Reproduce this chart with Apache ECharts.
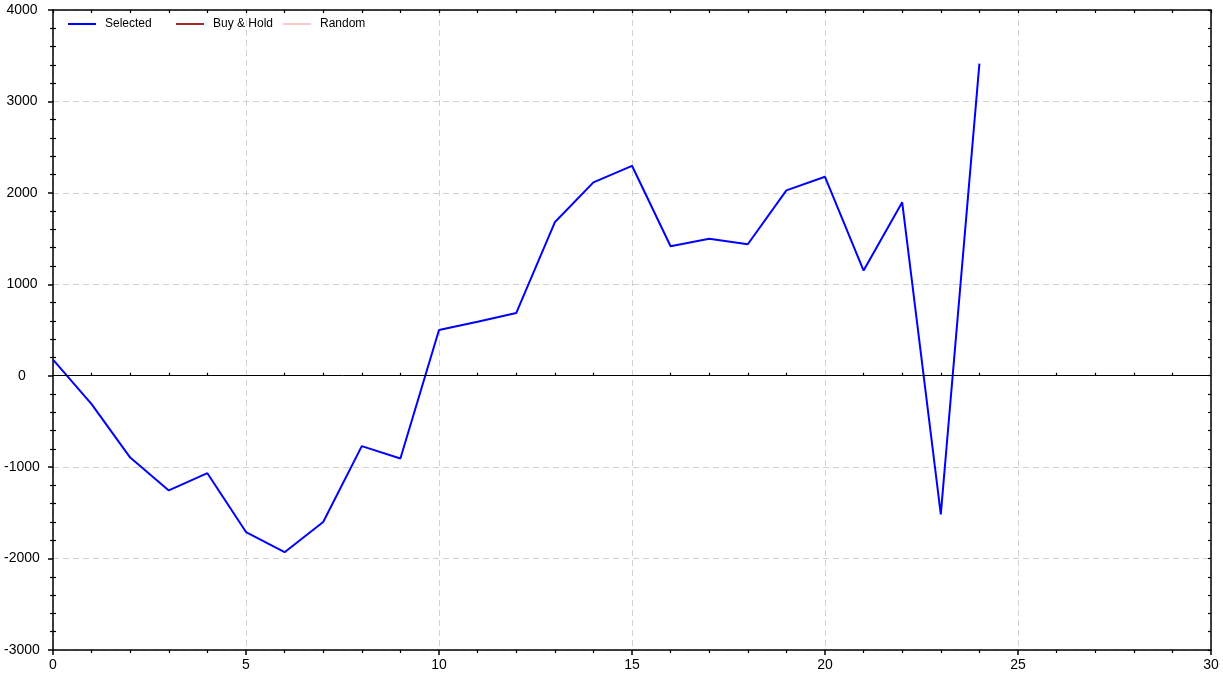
<!DOCTYPE html>
<html>
<head>
<meta charset="utf-8">
<script src="https://cdn.jsdelivr.net/npm/echarts@6/dist/echarts.min.js"></script>
<style>
html,body{margin:0;padding:0;background:#fff;}
#chart{width:1223px;height:678px;}
</style>
</head>
<body>
<div id="chart"></div>
<script>
const xValues = [0,1,2,3,4,5,6,7,8,9,10,11,12,13,14,15,16,17,18,19,20,21,22,23,24];
const selected = [175,-310,-895,-1255,-1066,-1710,-1930,-1600,-770,-906,500,590,685,1678,2115,2296,1416,1499,1438,2027,2176,1150,1896,-1517,3414];
const buyHold = [];
const random = [];
const seriesNames = ['Selected','Buy & Hold','Random'];
const seriesColors = ['#0000ff','#a52a2a','#ffc8cc'];
const legendLefts = [68,176,283];

const chart = echarts.init(document.getElementById('chart'));
const font = 'Arial, "Liberation Sans", sans-serif';
const gridLine = {show:true, lineStyle:{color:'#d0d0d0', type:[6,4], width:1}};
const axLine = {show:true, onZero:false, lineStyle:{color:'#000', width:1.5}};
const plain = v => String(v);

chart.setOption({
  animation:false,
  backgroundColor:'#fff',
  grid:{left:53, right:12, top:10, bottom:28, containLabel:false},
  legend:seriesNames.map((n,i)=>({
    left:legendLefts[i], top:18, padding:0, itemWidth:28, itemHeight:2,
    data:[{name:n, icon:'rect', itemStyle:{color:seriesColors[i]}}],
    textStyle:{fontFamily:font, fontSize:12, color:'#000', padding:[0,0,0,4]}
  })),
  xAxis:[
    {type:'value', min:0, max:30, interval:5, position:'bottom',
     axisLine:axLine, axisTick:{show:true, length:5, lineStyle:{color:'#000',width:1.5}},
     minorTick:{show:true, splitNumber:5, length:3, lineStyle:{color:'#000',width:1.2}},
     axisLabel:{fontFamily:font, fontSize:14, color:'#000', margin:8, formatter:plain},
     splitLine:gridLine},
    {type:'value', min:0, max:30, interval:5, position:'bottom',
     axisLine:{show:false}, axisTick:{show:false, inside:true},
     minorTick:{show:true, splitNumber:5, length:3, lineStyle:{color:'#000',width:1.2}},
     axisLabel:{show:false}, splitLine:{show:false}},
    {type:'value', min:0, max:30, interval:5, position:'top',
     axisLine:axLine, axisTick:{show:true, inside:true, length:3, lineStyle:{color:'#000',width:1.2}},
     minorTick:{show:true, splitNumber:5, length:3, lineStyle:{color:'#000',width:1.2}},
     axisLabel:{show:false}, splitLine:{show:false}}
  ],
  yAxis:[
    {type:'value', min:-3000, max:4000, interval:1000, position:'left',
     axisLine:axLine, axisTick:{show:true, length:5, lineStyle:{color:'#000',width:1.5}},
     minorTick:{show:true, splitNumber:5, length:3, lineStyle:{color:'#000',width:1.2}},
     axisLabel:{fontFamily:font, fontSize:14, color:'#000', margin:31, align:'center', formatter:plain},
     splitLine:gridLine},
    {type:'value', min:-3000, max:4000, interval:1000, position:'left',
     axisLine:{show:false}, axisTick:{show:false, inside:true},
     minorTick:{show:true, splitNumber:5, length:3, lineStyle:{color:'#000',width:1.2}},
     axisLabel:{show:false}, splitLine:{show:false}},
    {type:'value', min:-3000, max:4000, interval:1000, position:'right',
     axisLine:axLine, axisTick:{show:true, inside:true, length:3, lineStyle:{color:'#000',width:1.2}},
     minorTick:{show:true, splitNumber:5, length:3, lineStyle:{color:'#000',width:1.2}},
     axisLabel:{show:false}, splitLine:{show:false}}
  ],
  series:[
    {name:seriesNames[0], type:'line', symbol:'none', xAxisIndex:0, yAxisIndex:0,
     data:xValues.map((x,i)=>[x,selected[i]]),
     lineStyle:{color:seriesColors[0], width:2}, itemStyle:{color:seriesColors[0]},
     markLine:{silent:true, symbol:['none','none'], label:{show:false},
       lineStyle:{color:'#000', type:'solid', width:1}, data:[{yAxis:0}]}},
    {name:seriesNames[1], type:'line', symbol:'none', data:buyHold,
     lineStyle:{color:seriesColors[1], width:2}, itemStyle:{color:seriesColors[1]}},
    {name:seriesNames[2], type:'line', symbol:'none', data:random,
     lineStyle:{color:seriesColors[2], width:1.5}, itemStyle:{color:seriesColors[2]}}
  ]
});
</script>
</body>
</html>
